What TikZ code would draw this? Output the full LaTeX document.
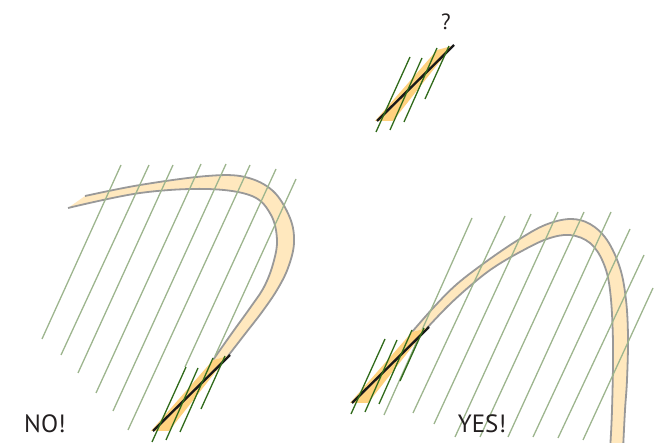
\documentclass[tikz,border=0pt]{standalone}
\usepackage{fontspec}
\setmainfont{PT Sans}
\usepackage{tikz}
\definecolor{hatchgreen}{HTML}{9DB58E}
\definecolor{tangreen}{HTML}{2F6A1A}
\definecolor{bandfill}{HTML}{FFE8BE}
\definecolor{patchfill}{HTML}{FFD27F}
\definecolor{bandgrey}{HTML}{999999}
\definecolor{labelgrey}{HTML}{231F20}
\tikzset{
  hatch/.style={line width=1.3pt, draw=hatchgreen},
  tanline/.style={line width=1.3pt, draw=tangreen},
  tangent/.style={line width=2.4pt, draw=black!90},
  bandedge/.style={line width=1.8pt, draw=bandgrey},
  patch/.style={fill=patchfill},
  lbl/.style={font=\fontsize{25}{30}\selectfont, text=labelgrey, inner sep=0pt}
}
\begin{document}
\begin{tikzpicture}[x=1pt, y=-1pt, smooth, tension=0.6]
  \useasboundingbox (0,0) rectangle (656,443);
  \clip (0,0) rectangle (656,443);
  % left band
  \fill[bandfill] plot coordinates {(85,196) (140,185) (207,176) (245,177) (273,191) (290,218) (294,243) (288,268) (277,290) (262,312) (245,334) (228,356)}
    -- plot coordinates {(213,360) (232,333) (250,308) (264,287) (273,264) (277,240) (271,215) (252,196) (207,189) (140,193) (68,208)} -- cycle;
  \draw[bandedge] plot coordinates {(85,196) (140,185) (207,176) (245,177) (273,191) (290,218) (294,243) (288,268) (277,290) (262,312) (245,334) (228,356)};
  \draw[bandedge] plot coordinates {(213,360) (232,333) (250,308) (264,287) (273,264) (277,240) (271,215) (252,196) (207,189) (140,193) (68,208)};
  % right band
  \fill[bandfill] plot coordinates {(412,332) (434,307) (457,284) (487,261) (518,240) (545,225) (570,219) (590,224) (607,240) (620,268) (626,300) (628,337) (627,380) (625,410) (623,450)}
    -- plot coordinates {(610,450) (612,410) (613,343) (610,290) (603,262) (590,243) (570,235) (547,239) (520,252) (493,268) (470,286) (448,306) (427,328)} -- cycle;
  \draw[bandedge] plot coordinates {(412,332) (434,307) (457,284) (487,261) (518,240) (545,225) (570,219) (590,224) (607,240) (620,268) (626,300) (628,337) (627,380) (625,410) (623,450)};
  \draw[bandedge] plot coordinates {(610,450) (612,410) (613,343) (610,290) (603,262) (590,243) (570,235) (547,239) (520,252) (493,268) (470,286) (448,306) (427,328)};
  % hatching
  \foreach \ax/\ay/\bx/\by in {121/165/42/339, 149/165/61/355, 173/165/78/373, 201/164/96/393,
      226/164/113/411, 250/165/128/430, 276/169/185/367, 296/179/215/356}
    \draw[hatch] (\ax,\ay) -- (\bx,\by);
  \foreach \ax/\ay/\bx/\by in {472/218/384/415, 505/216/413/413, 531/214/434/424, 558/212/455/437,
      584/212/480/437, 611/212/508/437, 630/229/533/437, 644/255/558/438, 653/288/583/440}
    \draw[hatch] (\ax,\ay) -- (\bx,\by);
  % tangent pieces
  \foreach \px/\py in {377/121, 153/431, 352/403} {
    \begin{scope}[shift={(\px,\py)}]
      \fill[patch] (-2,0) -- (16,0) -- (75,-75) -- (60,-71) -- cycle;
      \draw[tangent] (0,0) -- (77,-76);
      \foreach \ax/\ay/\bx/\by in {33/-64/-1/11, 45/-63/13/9, 60/-73/27/1, 72/-75/48/-22}
        \draw[tanline] (\ax,\ay) -- (\bx,\by);
    \end{scope}
  }
  \node[lbl, font=\fontsize{22}{26}\selectfont] (qmark) at (446,22) {?};
  \node[lbl] (nolbl) at (45,424) {NO!};
  \node[lbl] (yeslbl) at (482,424) {YES!};
\end{tikzpicture}
\end{document}
